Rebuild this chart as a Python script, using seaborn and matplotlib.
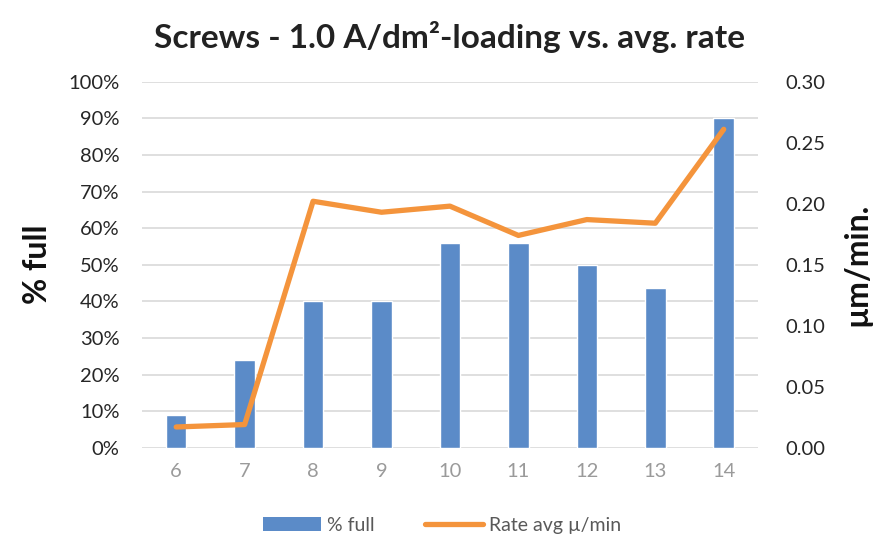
import matplotlib
matplotlib.use("Agg")
import matplotlib.pyplot as plt
import seaborn as sns
import pandas as pd
import numpy as np
from matplotlib.ticker import FuncFormatter, MultipleLocator
from matplotlib.patches import Patch
from matplotlib.lines import Line2D

# data
loading = ["6", "7", "8", "9", "10", "11", "12", "13", "14"]
pct_full = [9, 24, 40, 40, 56, 56, 50, 43.5, 90]
rate_avg = [0.017, 0.019, 0.202, 0.193, 0.198, 0.174, 0.187, 0.184, 0.261]

title = "Screws - 1.0 A/dm²-loading vs. avg. rate"
left_label = "% full"
right_label = "µm/min."
bar_legend = "% full"
line_legend = "Rate avg µ/min"

BLUE = "#5B8BC8"
ORANGE = "#F4943C"
GRID = "#D9D9D9"

sns.set_theme(style="white")
plt.rcParams['font.family'] = ['Lato', 'DejaVu Sans']

df = pd.DataFrame({"loading": loading, "pct": pct_full, "rate": rate_avg})

fig = plt.figure(figsize=(8.84, 5.45), dpi=100)
ax = fig.add_axes([0.1606, 0.1785, 0.6968, 0.6716])

sns.barplot(data=df, x="loading", y="pct", color=BLUE, saturation=1,
            width=0.3, ax=ax, zorder=3)
ax.set_ylim(0, 100)
ax.set_xlim(-0.5, len(loading) - 0.5)
ax.yaxis.set_major_locator(MultipleLocator(10))
ax.yaxis.set_major_formatter(FuncFormatter(lambda v, p: f"{int(round(v))}%"))
ax.grid(axis="y", color=GRID, linewidth=1.2, zorder=0)
ax.set_axisbelow(True)
for s in ax.spines.values():
    s.set_visible(False)
ax.tick_params(axis="y", length=0, pad=16, labelsize=14.5, labelcolor="#262626")
ax.tick_params(axis="x", length=0, pad=11, labelsize=14.5, labelcolor="#9A9A9A")
ax.set_xlabel("")
ax.set_ylabel(left_label, fontsize=23, fontweight="bold", color="#111111", labelpad=12)

ax2 = ax.twinx()
sns.lineplot(data=df, x="loading", y="rate", color=ORANGE, linewidth=3.8,
             sort=False, ax=ax2, zorder=4)
ax2.set_ylim(0, 0.30)
ax2.yaxis.set_major_locator(MultipleLocator(0.05))
ax2.yaxis.set_major_formatter(FuncFormatter(lambda v, p: f"{v:.2f}"))
for s in ax2.spines.values():
    s.set_visible(False)
ax2.tick_params(axis="y", length=0, pad=20, labelsize=14.5, labelcolor="#262626")
ax2.set_ylabel(right_label, fontsize=23, fontweight="bold", color="#111111",
               labelpad=12, rotation=90)
ax2.set_xlabel("")
ax2.grid(False)

ax.set_title(title, fontsize=24, fontweight="bold", color="#222222", pad=24)

handles = [Patch(facecolor=BLUE, edgecolor="none"),
           Line2D([0], [0], color=ORANGE, linewidth=3.8)]
fig.legend(handles, [bar_legend, line_legend], loc="lower center",
           bbox_to_anchor=(0.5, -0.012), ncol=2, frameon=False,
           fontsize=14, labelcolor="#595959", handlelength=3.0,
           columnspacing=2.6, handletextpad=0.3)

fig.savefig("out.png", dpi=100, facecolor="white")
